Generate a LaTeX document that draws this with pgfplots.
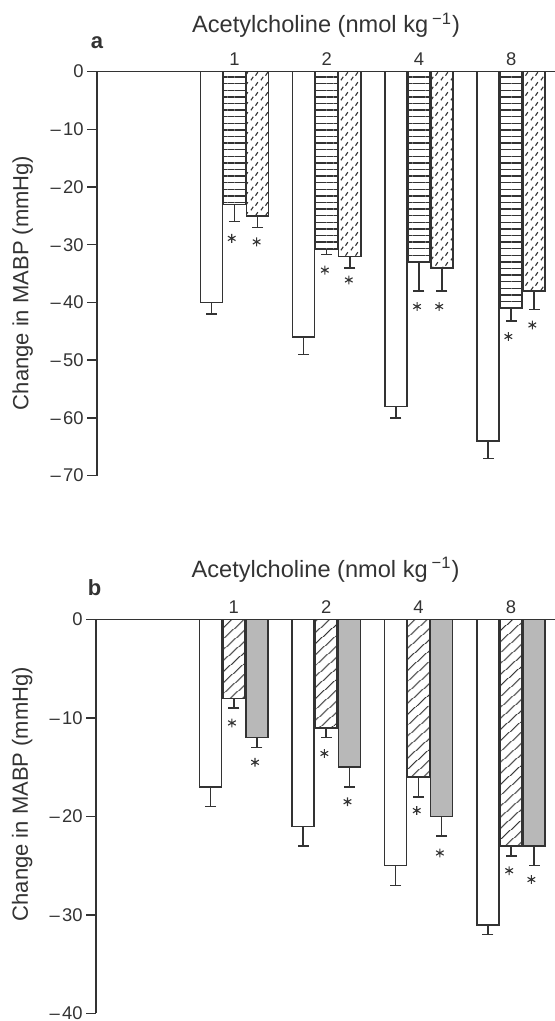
\documentclass[border=0pt]{standalone}
\usepackage{fontspec}
\setmainfont{Liberation Sans}
\usepackage{pgfplots}
\pgfplotsset{compat=1.18}
\usetikzlibrary{patterns,patterns.meta}
\pgfdeclarepatternformonly{stipple}{\pgfqpoint{0pt}{0pt}}{\pgfqpoint{5pt}{5pt}}{\pgfqpoint{5pt}{5pt}}{%
  \pgfsetlinewidth{0.6pt}%
  \pgfpathmoveto{\pgfqpoint{0.5pt}{0.4pt}}\pgfpathlineto{\pgfqpoint{1.8pt}{2.3pt}}%
  \pgfpathmoveto{\pgfqpoint{3.0pt}{2.9pt}}\pgfpathlineto{\pgfqpoint{4.3pt}{4.8pt}}%
  \pgfusepath{stroke}}
\colorlet{ink}{black!80}
\newcommand{\mn}{–\hspace{1.2pt}}
\pgfplotsset{
  mybar/.style={ybar, bar width=11pt, bar shift=0pt, draw=ink, line width=0.75pt,
    error bars/y dir=minus, error bars/y explicit,
    error bars/error mark=-,
    error bars/error bar style={line width=0.75pt, ink},
    error bars/error mark options={rotate=90, line width=0.75pt, ink, mark size=2.75pt}},
  stars/.style={only marks, mark=asterisk, mark size=2.2pt, ink, mark options={line width=0.55pt}},
  panel/.style={
    anchor=south west, scale only axis,
    xmin=-0.491, xmax=4.476, ymax=0,
    axis x line*=top, axis y line*=left,
    axis line style={ink, line width=0.75pt},
    xtick={1,2,3,4}, xticklabels={1,2,4,8},
    major x tick style={draw=none},
    xticklabel style={yshift=-5.5pt},
    tick align=outside, major tick length=5pt,
    major y tick style={ink, line width=0.75pt},
    yticklabel style={inner sep=1.5pt},
    ticklabel style={font=\fontsize{9.2}{11}\selectfont, text=ink},
    label style={font=\fontsize{11}{13}\selectfont, text=ink},
    clip=false,
  },
}
\begin{document}
\begin{tikzpicture}
\path[use as bounding box] (0,0) rectangle (277.5pt,510.5pt);
% ---------------- panel a
\begin{axis}[panel, at={(48.5pt,272.7pt)}, width=229pt, height=202pt,
  ymin=-70, ytick={0,-10,-20,-30,-40,-50,-60,-70},
  yticklabels={0,\mn10,\mn20,\mn30,\mn40,\mn50,\mn60,\mn70},
  ylabel={Change in MABP (mmHg)},
  ylabel style={at={(axis description cs:-0.162,0.477)}, anchor=center}]
\addplot[mybar, fill=white] coordinates {
 (0.75,-40) +- (0,2)
 (1.75,-46) +- (0,3)
 (2.75,-58) +- (0,2)
 (3.75,-64) +- (0,3)};
\addplot[mybar, pattern={Lines[angle=0,distance=3.3pt,line width=0.7pt]}, pattern color=ink] coordinates {
 (1,-23) +- (0,3)
 (2,-30.8) +- (0,0.9)
 (3,-33) +- (0,5)
 (4,-41) +- (0,2.2)};
\addplot[mybar, pattern=stipple, pattern color=ink] coordinates {
 (1.25,-25) +- (0,2)
 (2.25,-32) +- (0,2)
 (3.25,-34) +- (0,4)
 (4.25,-38) +- (0,3.2)};
\addplot[stars] coordinates {
 (0.97,-28.9) (1.24,-29.5) (1.98,-34.4) (2.24,-36.1)
 (2.98,-40.7) (3.22,-40.7) (3.97,-45.9) (4.23,-43.9)};
\node[font=\fontsize{11.8}{13}\selectfont, text=ink] at (axis description cs:0.5,1.115) {Acetylcholine (nmol kg\,\textsuperscript{−1})};
\node[font=\bfseries\fontsize{11}{13}\selectfont, text=ink] at (axis description cs:0,1.071) {a};
\end{axis}
% ---------------- panel b
\begin{axis}[panel, at={(48pt,3.75pt)}, width=229.5pt, height=197pt,
  ymin=-40, ytick={0,-10,-20,-30,-40},
  yticklabels={0,\mn10,\mn20,\mn30,\mn40},
  ylabel={Change in MABP (mmHg)},
  ylabel style={at={(axis description cs:-0.161,0.557)}, anchor=center}]
\addplot[mybar, fill=white] coordinates {
 (0.75,-17) +- (0,2)
 (1.75,-21) +- (0,2)
 (2.75,-25) +- (0,2)
 (3.75,-31) +- (0,1)};
\addplot[mybar, pattern={Lines[angle=42,distance=4pt,line width=0.5pt]}, pattern color=ink] coordinates {
 (1,-8) +- (0,1)
 (2,-11) +- (0,1)
 (3,-16) +- (0,2)
 (4,-23) +- (0,1)};
\addplot[mybar, fill=black!28] coordinates {
 (1.25,-12) +- (0,1)
 (2.25,-15) +- (0,2)
 (3.25,-20) +- (0,2)
 (4.25,-23) +- (0,2)};
\addplot[stars] coordinates {
 (0.98,-10.5) (1.23,-14.5) (1.98,-13.6) (2.23,-18.5)
 (2.98,-19.4) (3.23,-23.7) (3.98,-25.5) (4.22,-26.4)};
\node[font=\fontsize{11.8}{13}\selectfont, text=ink] at (axis description cs:0.5,1.126) {Acetylcholine (nmol kg\,\textsuperscript{−1})};
\node[font=\bfseries\fontsize{11}{13}\selectfont, text=ink] at (axis description cs:-0.003,1.08) {b};
\end{axis}
\end{tikzpicture}
\end{document}
